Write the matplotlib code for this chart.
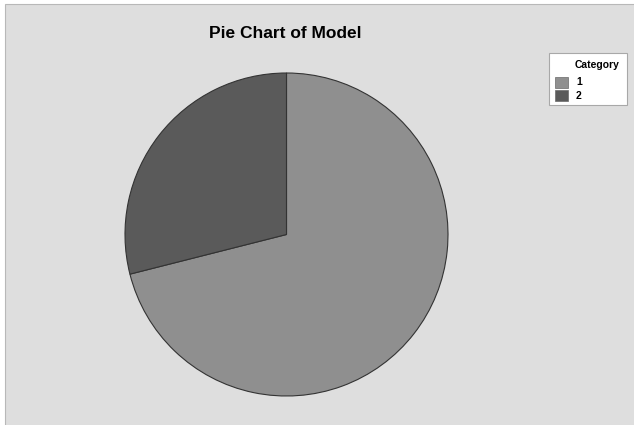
import matplotlib
matplotlib.use("Agg")
import matplotlib.pyplot as plt
from matplotlib.patches import Rectangle

categories = ["1", "2"]
values = [27, 11]
colors = ["#8f8f8f", "#5a5a5a"]
title = "Pie Chart of Model"
legend_title = "Category"

W, H = 634, 425
fig = plt.figure(figsize=(W / 100, H / 100), dpi=100)
ax = fig.add_axes([0, 0, 1, 1])

def py(y):
    return H - y

# background frame
ax.add_patch(Rectangle((5, -2), W, H - 4 + 2, facecolor="#dedede",
                       edgecolor="#b8b8b8", linewidth=0.8, zorder=0))

ax.pie(values, colors=colors, startangle=90, counterclock=False,
       center=(286.5, py(234.5)), radius=161.5, frame=True,
       wedgeprops=dict(edgecolor="#333333", linewidth=0.8))
ax.set_xlim(0, W)
ax.set_ylim(0, H)
ax.set_aspect("equal")
ax.axis("off")

fig.text(285 / W, 1 - 34 / H, title, ha="center", va="center",
         fontsize=12.5, fontweight="bold", family="Liberation Sans")

# legend
ax.add_patch(Rectangle((549, py(105)), 78, 52, facecolor="white",
                       edgecolor="#a8a8a8", linewidth=0.8, zorder=5))
ax.text(575, py(65), legend_title, ha="left", va="center", fontsize=7.5,
        fontweight="bold", family="Liberation Sans", zorder=6)
for i, (c, col) in enumerate(zip(categories, colors)):
    yc = 82 + i * 13.5
    ax.add_patch(Rectangle((555, py(yc + 5.5)), 13, 11, facecolor=col,
                           edgecolor="#6a6a6a", linewidth=0.5, zorder=6))
    ax.text(576, py(yc), c, ha="left", va="center", fontsize=7.5,
            fontweight="bold", family="Liberation Sans", zorder=6)

fig.savefig("out.png", dpi=100)
